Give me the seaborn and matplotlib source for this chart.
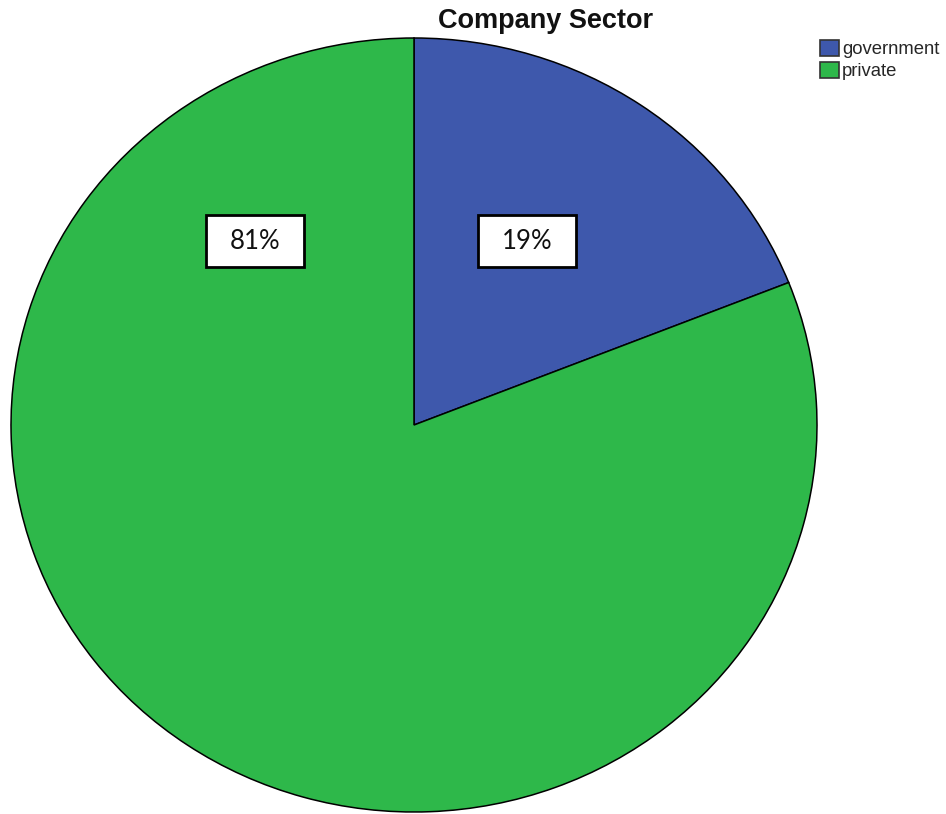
import matplotlib
matplotlib.use("Agg")
import matplotlib.pyplot as plt
from matplotlib.patches import Rectangle
import seaborn as sns

# Share of employees by company sector
sectors = ["government", "private"]
shares = [19, 81]
pct_labels = ["19%", "81%"]
sector_colors = ["#3E58AC", "#2EB84A"]

sns.set_theme(style="white")
plt.rcParams["font.family"] = ["Liberation Sans", "DejaVu Sans"]

W, H = 946, 814
fig = plt.figure(figsize=(W / 100, H / 100), dpi=100)

# Pie area in pixels (left, top, right, bottom)
px_l, px_t, px_r, px_b = 11, 38, 817, 812
ax = fig.add_axes([px_l / W, 1 - px_b / H, (px_r - px_l) / W, (px_b - px_t) / H])

wedges, _ = ax.pie(
    shares,
    colors=sector_colors,
    startangle=90,
    counterclock=False,
    radius=1.0,
    wedgeprops=dict(edgecolor="black", linewidth=1.1),
)
ax.set_aspect("auto")
ax.set_xlim(-1.0, 1.0)
ax.set_ylim(-1.0, 1.0)
ax.axis("off")
for w in wedges:
    w.set_clip_on(False)

# Percentage boxes (centres in data units)
label_pos = {"19%": (0.280, 0.475), "81%": (-0.395, 0.475)}
box_w = 98 / 403
box_h = 52 / 387
for lab in pct_labels:
    x, y = label_pos[lab]
    ax.add_patch(Rectangle((x - box_w / 2, y - box_h / 2), box_w, box_h,
                           facecolor="white", edgecolor="black", linewidth=2.0,
                           zorder=5, clip_on=False))
    ax.text(x, y, lab, ha="center", va="center", fontsize=18.5,
            family=["Lato", "DejaVu Sans"], color="#111111", zorder=6)

fig.text(546 / W, 1 - 28 / H, "Company Sector", ha="center", va="baseline",
         fontsize=19.5, fontweight="bold", color="#111111")

fig.legend(
    wedges, sectors,
    loc="upper left",
    bbox_to_anchor=(817 / W, 1 - 37 / H),
    frameon=False,
    fontsize=13.3,
    handlelength=1.05,
    handleheight=0.95,
    handletextpad=0.15,
    labelspacing=0.22,
    borderaxespad=0,
    borderpad=0.15,
)
for h in fig.legends[0].legend_handles:
    h.set_edgecolor("#333333")
    h.set_linewidth(1.2)

fig.savefig("out.png", dpi=100)
